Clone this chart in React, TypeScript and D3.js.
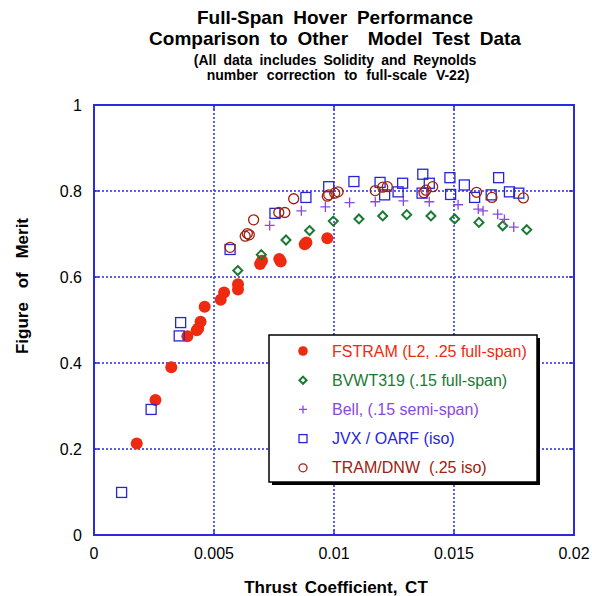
import React from "react";
import * as d3 from "d3";

const W = 592;
const H = 596;

const xTicks = [0, 0.005, 0.01, 0.015, 0.02];
const yTicks = [0, 0.2, 0.4, 0.6, 0.8, 1];
const xTickLabels = ["0", "0.005", "0.01", "0.015", "0.02"];
const yTickLabels = ["0", "0.2", "0.4", "0.6", "0.8", "1"];

const titleLines = [
  "Full-Span Hover Performance",
  "Comparison to Other  Model Test Data",
];
const subtitleLines = [
  "(All data includes Solidity and Reynolds",
  "number correction to full-scale V-22)",
];

const fstram: [number, number][] = [
  [0.00178, 0.213], [0.00256, 0.314], [0.00322, 0.39], [0.00389, 0.462],
  [0.00428, 0.476], [0.00434, 0.48], [0.00444, 0.496], [0.00461, 0.531],
  [0.00528, 0.547], [0.00542, 0.564], [0.006, 0.571], [0.006, 0.583],
  [0.00692, 0.63], [0.007, 0.638], [0.00772, 0.642], [0.00778, 0.636],
  [0.00878, 0.676], [0.00885, 0.68], [0.00972, 0.69],
];

const bvwt: [number, number][] = [
  [0.00599, 0.615], [0.00697, 0.652], [0.008, 0.686], [0.00898, 0.708],
  [0.00997, 0.73], [0.01104, 0.735], [0.01203, 0.742], [0.01303, 0.745],
  [0.01404, 0.742], [0.01503, 0.735], [0.01604, 0.727], [0.01703, 0.719],
  [0.01803, 0.71],
];

const bell: [number, number][] = [
  [0.00732, 0.72], [0.00864, 0.754], [0.00964, 0.763], [0.01065, 0.773],
  [0.01172, 0.775], [0.01289, 0.777], [0.01397, 0.775], [0.01517, 0.768],
  [0.01601, 0.758], [0.01621, 0.754], [0.01682, 0.746], [0.0171, 0.734],
  [0.01749, 0.716],
];

const jvx: [number, number][] = [
  [0.00115, 0.099], [0.00238, 0.292], [0.00355, 0.463], [0.00361, 0.494],
  [0.00567, 0.664], [0.00754, 0.748], [0.00883, 0.785], [0.00978, 0.81],
  [0.01083, 0.822], [0.01192, 0.82], [0.01211, 0.791], [0.01267, 0.798],
  [0.01286, 0.818], [0.0137, 0.839], [0.01397, 0.818], [0.01367, 0.795],
  [0.01483, 0.831], [0.01486, 0.792], [0.01543, 0.814], [0.01586, 0.785],
  [0.01655, 0.791], [0.01686, 0.831], [0.01731, 0.798], [0.0177, 0.795],
];

const tram: [number, number][] = [
  [0.00567, 0.669], [0.0063, 0.695], [0.00639, 0.701], [0.00647, 0.698],
  [0.00665, 0.733], [0.0077, 0.75], [0.00795, 0.75], [0.00832, 0.782],
  [0.00972, 0.788], [0.00978, 0.791], [0.01003, 0.795], [0.01017, 0.798],
  [0.01172, 0.801], [0.01203, 0.809], [0.01222, 0.81], [0.01375, 0.796],
  [0.01383, 0.802], [0.01411, 0.81], [0.01594, 0.797], [0.01658, 0.785],
  [0.01789, 0.784],
];

const legendLabels = [
  "FSTRAM (L2, .25 full-span)",
  "BVWT319 (.15 full-span)",
  "Bell, (.15 semi-span)",
  "JVX / OARF (iso)",
  "TRAM/DNW  (.25 iso)",
];

const C_RED = "#ee2a10";
const C_GREEN = "#1a7a32";
const C_PURPLE = "#8a48e0";
const C_BLUE = "#2626d8";
const C_DRED = "#a0200e";
const GRID = "#2a2ae0";

type Kind = "fcircle" | "diamond" | "plus" | "square" | "ocircle";

function Marker({ kind, x, y, s = 1 }: { kind: Kind; x: number; y: number; s?: number }) {
  switch (kind) {
    case "fcircle":
      return <circle cx={x} cy={y} r={6 * s} fill={C_RED} />;
    case "ocircle":
      return <circle cx={x} cy={y} r={5 * s} fill="none" stroke={C_DRED} strokeWidth={1.3} />;
    case "square":
      return <rect x={x - 5 * s} y={y - 5 * s} width={10 * s} height={10 * s} fill="none" stroke={C_BLUE} strokeWidth={1.3} />;
    case "diamond": {
      const r = 4.5 * s;
      return (
        <path
          d={`M${x},${y - r}L${x + r},${y}L${x},${y + r}L${x - r},${y}Z`}
          fill="none"
          stroke={C_GREEN}
          strokeWidth={2}
        />
      );
    }
    case "plus": {
      const r = 5 * s;
      return (
        <path d={`M${x - r},${y}H${x + r}M${x},${y - r}V${y + r}`} stroke={C_PURPLE} strokeWidth={1.3} />
      );
    }
  }
}

export default function App() {
  const left = 94, right = 574, top = 105, bottom = 535;
  const x = d3.scaleLinear().domain([0, 0.02]).range([left, right]);
  const y = d3.scaleLinear().domain([0, 1]).range([bottom, top]);

  const font = "'Liberation Sans', Arial, sans-serif";
  const series: { data: [number, number][]; kind: Kind }[] = [
    { data: fstram, kind: "fcircle" },
    { data: bvwt, kind: "diamond" },
    { data: bell, kind: "plus" },
    { data: jvx, kind: "square" },
    { data: tram, kind: "ocircle" },
  ];
  const legendColors = [C_RED, C_GREEN, C_PURPLE, C_BLUE, C_DRED];
  const legendKinds: Kind[] = ["fcircle", "diamond", "plus", "square", "ocircle"];

  const lg = { x: 269, y: 335, w: 268, h: 147 };
  const subWs = [3.3, 5];
  const subX = [335, 338];

  return (
    <svg width={W} height={H} style={{ position: "absolute", left: 0, top: 0, fontFamily: font }}>
      <rect width={W} height={H} fill="white" />
      {/* title */}
      <g textAnchor="middle" fontWeight="bold" fill="#000">
        {titleLines.map((t, i) => (
          <text key={i} x={335} y={23.5 + i * 21.5} fontSize={19} wordSpacing={4.5} style={{ whiteSpace: "pre" }}>
            {t}
          </text>
        ))}
        {subtitleLines.map((t, i) => (
          <text key={i} x={subX[i]} y={64.5 + i * 15.3} fontSize={14} wordSpacing={subWs[i]} style={{ whiteSpace: "pre" }}>
            {t}
          </text>
        ))}
      </g>

      {/* grid */}
      <g stroke={GRID} strokeWidth={1.5} strokeDasharray="2,2">
        {xTicks.slice(1, -1).map((t) => (
          <line key={"gx" + t} x1={x(t)} x2={x(t)} y1={top} y2={bottom} />
        ))}
        {yTicks.slice(1, -1).map((t) => (
          <line key={"gy" + t} x1={left} x2={right} y1={y(t)} y2={y(t)} />
        ))}
      </g>
      {/* ticks */}
      <g stroke={GRID} strokeWidth={1.5}>
        {xTicks.map((t) => (
          <g key={"tx" + t}>
            <line x1={x(t)} x2={x(t)} y1={bottom} y2={bottom - 5} />
            <line x1={x(t)} x2={x(t)} y1={top} y2={top + 5} />
          </g>
        ))}
        {yTicks.map((t) => (
          <g key={"ty" + t}>
            <line x1={left} x2={left + 5} y1={y(t)} y2={y(t)} />
            <line x1={right} x2={right - 5} y1={y(t)} y2={y(t)} />
          </g>
        ))}
      </g>
      <rect x={left} y={top} width={right - left} height={bottom - top} fill="none" stroke={GRID} strokeWidth={2} />

      {/* tick labels */}
      <g fontSize={16} fill="#000">
        {xTicks.map((t, i) => (
          <text key={"lx" + t} x={x(t)} y={559} textAnchor="middle">
            {xTickLabels[i]}
          </text>
        ))}
        {yTicks.map((t, i) => (
          <text key={"ly" + t} x={82} y={y(t) + 5.5} textAnchor="end">
            {yTickLabels[i]}
          </text>
        ))}
      </g>

      {/* axis titles */}
      <text x={336} y={592.5} textAnchor="middle" fontSize={17} fontWeight="bold" wordSpacing={3}>
        Thrust Coefficient, CT
      </text>
      <text
        transform={`translate(28,286) rotate(-90)`}
        textAnchor="middle"
        fontSize={17}
        fontWeight="bold"
        wordSpacing={9}
      >
        Figure of Merit
      </text>

      {/* data */}
      {series.map((s, si) => (
        <g key={si}>
          {s.data.map((d, i) => (
            <Marker key={i} kind={s.kind} x={x(d[0])} y={y(d[1])} />
          ))}
        </g>
      ))}

      {/* legend */}
      <rect x={lg.x + 3} y={lg.y + 3} width={lg.w} height={lg.h} fill="#000" />
      <rect x={lg.x} y={lg.y} width={lg.w} height={lg.h} fill="#fff" stroke="#000" strokeWidth={1.5} />
      {legendLabels.map((l, i) => {
        const cy = 351 + i * 29.2;
        return (
          <g key={l}>
            <Marker kind={legendKinds[i]} x={303} y={cy} s={0.8} />
            <text x={332} y={cy + 5.5} fontSize={16} fill={legendColors[i]} style={{ whiteSpace: "pre" }}>
              {l}
            </text>
          </g>
        );
      })}
    </svg>
  );
}
